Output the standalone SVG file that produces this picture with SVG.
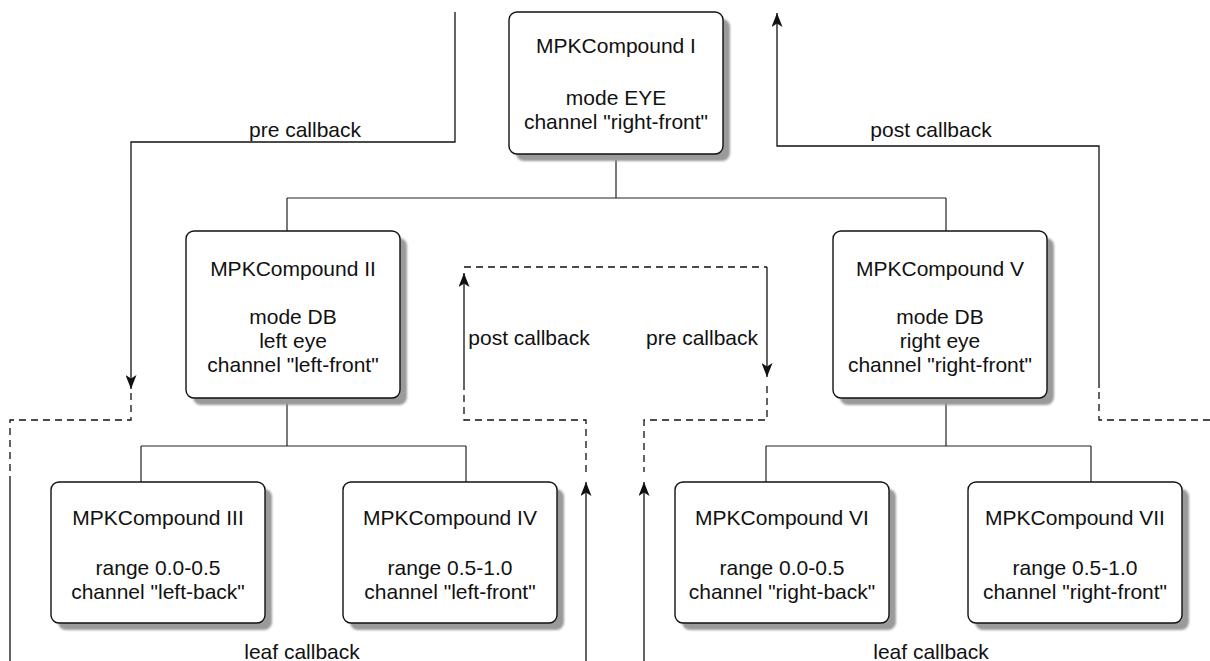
<svg xmlns="http://www.w3.org/2000/svg" width="1210" height="661" viewBox="0 0 1210 661">
<style>
  .box { fill: #ffffff; stroke: #111111; stroke-width: 1.4; }
  .shadow { fill: #9a9a9a; filter: url(#blur); }
  .t { font-family: "Liberation Sans", Arial, sans-serif; font-size: 21px; fill: #111111; text-anchor: middle; }
  .tree { fill: none; stroke: #222222; stroke-width: 1.2; }
  .solid { fill: none; stroke: #111111; stroke-width: 1.3; }
  .dash { fill: none; stroke: #111111; stroke-width: 1.3; stroke-dasharray: 7 5; }
</style>
<defs>
  <filter id="blur" x="-10%" y="-10%" width="120%" height="120%">
    <feGaussianBlur stdDeviation="0.8"/>
  </filter>
  <marker id="arr" markerUnits="userSpaceOnUse" markerWidth="15" markerHeight="11" refX="14" refY="5.5" orient="auto">
    <path d="M0,0 L14,5.5 L0,11 L3.5,5.5 Z" fill="#111111"/>
  </marker>
</defs>
<rect width="1210" height="661" fill="#ffffff"/>

<g id="connectors">
  <!-- tree connectors -->
  <path class="tree" d="M616,154 V198 M287,198 H946 M287,198 V231 M946,198 V231"/>
  <path class="tree" d="M287,398 V446 M141,446 H466 M141,446 V482 M466,446 V482"/>
  <path class="tree" d="M946,398 V446 M766,446 H1091 M766,446 V482 M1091,446 V482"/>

  <!-- top-left pre callback -->
  <path class="solid" d="M455,12 V142 H131 V389" marker-end="url(#arr)"/>
  <path class="dash" d="M131,393 V420 H10 V477"/>
  <path class="solid" d="M10,477 V661"/>

  <!-- top-right post callback -->
  <path class="dash" d="M1210,420 H1099 V388"/>
  <path class="solid" d="M1099,388 V146 H777 V13" marker-end="url(#arr)"/>

  <!-- middle post callback -->
  <path class="solid" d="M586,661 V482" marker-end="url(#arr)"/>
  <path class="dash" d="M586,472 V420 H464 V387"/>
  <path class="solid" d="M464,387 V273" marker-end="url(#arr)"/>

  <!-- middle pre callback -->
  <path class="dash" d="M464,267 H767"/>
  <path class="solid" d="M767,267 V377" marker-end="url(#arr)"/>
  <path class="dash" d="M767,386 V420 H644 V472"/>
  <path class="solid" d="M644,661 V482" marker-end="url(#arr)"/>

  <!-- labels -->
  <text class="t" x="305" y="137">pre callback</text>
  <text class="t" x="931" y="137">post callback</text>
  <text class="t" x="529" y="345">post callback</text>
  <text class="t" x="702" y="345">pre callback</text>
  <text class="t" x="302" y="659">leaf callback</text>
  <text class="t" x="931" y="659">leaf callback</text>
</g>

<g id="node-I">
  <rect class="shadow" x="516" y="19" width="214" height="142" rx="8"/>
  <rect class="box" x="509" y="12" width="214" height="142" rx="8"/>
  <text class="t" x="616" y="53">MPKCompound I</text>
  <text class="t" x="616" y="105">mode EYE</text>
  <text class="t" x="616" y="129">channel "right-front"</text>
</g>

<g id="node-II">
  <rect class="shadow" x="193" y="238" width="214" height="167" rx="8"/>
  <rect class="box" x="186" y="231" width="214" height="167" rx="8"/>
  <text class="t" x="293" y="276">MPKCompound II</text>
  <text class="t" x="293" y="324">mode DB</text>
  <text class="t" x="293" y="348">left eye</text>
  <text class="t" x="293" y="372">channel "left-front"</text>
</g>

<g id="node-V">
  <rect class="shadow" x="840" y="238" width="214" height="167" rx="8"/>
  <rect class="box" x="833" y="231" width="214" height="167" rx="8"/>
  <text class="t" x="940" y="276">MPKCompound V</text>
  <text class="t" x="940" y="324">mode DB</text>
  <text class="t" x="940" y="348">right eye</text>
  <text class="t" x="940" y="372">channel "right-front"</text>
</g>

<g id="node-III">
  <rect class="shadow" x="58" y="489" width="214" height="141" rx="8"/>
  <rect class="box" x="51" y="482" width="214" height="141" rx="8"/>
  <text class="t" x="158" y="525">MPKCompound III</text>
  <text class="t" x="158" y="575">range 0.0-0.5</text>
  <text class="t" x="158" y="599">channel "left-back"</text>
</g>

<g id="node-IV">
  <rect class="shadow" x="350" y="489" width="214" height="141" rx="8"/>
  <rect class="box" x="343" y="482" width="214" height="141" rx="8"/>
  <text class="t" x="450" y="525">MPKCompound IV</text>
  <text class="t" x="450" y="575">range 0.5-1.0</text>
  <text class="t" x="450" y="599">channel "left-front"</text>
</g>

<g id="node-VI">
  <rect class="shadow" x="682" y="489" width="214" height="141" rx="8"/>
  <rect class="box" x="675" y="482" width="214" height="141" rx="8"/>
  <text class="t" x="782" y="525">MPKCompound VI</text>
  <text class="t" x="782" y="575">range 0.0-0.5</text>
  <text class="t" x="782" y="599">channel "right-back"</text>
</g>

<g id="node-VII">
  <rect class="shadow" x="975" y="489" width="214" height="141" rx="8"/>
  <rect class="box" x="968" y="482" width="214" height="141" rx="8"/>
  <text class="t" x="1075" y="525">MPKCompound VII</text>
  <text class="t" x="1075" y="575">range 0.5-1.0</text>
  <text class="t" x="1075" y="599">channel "right-front"</text>
</g>
</svg>
